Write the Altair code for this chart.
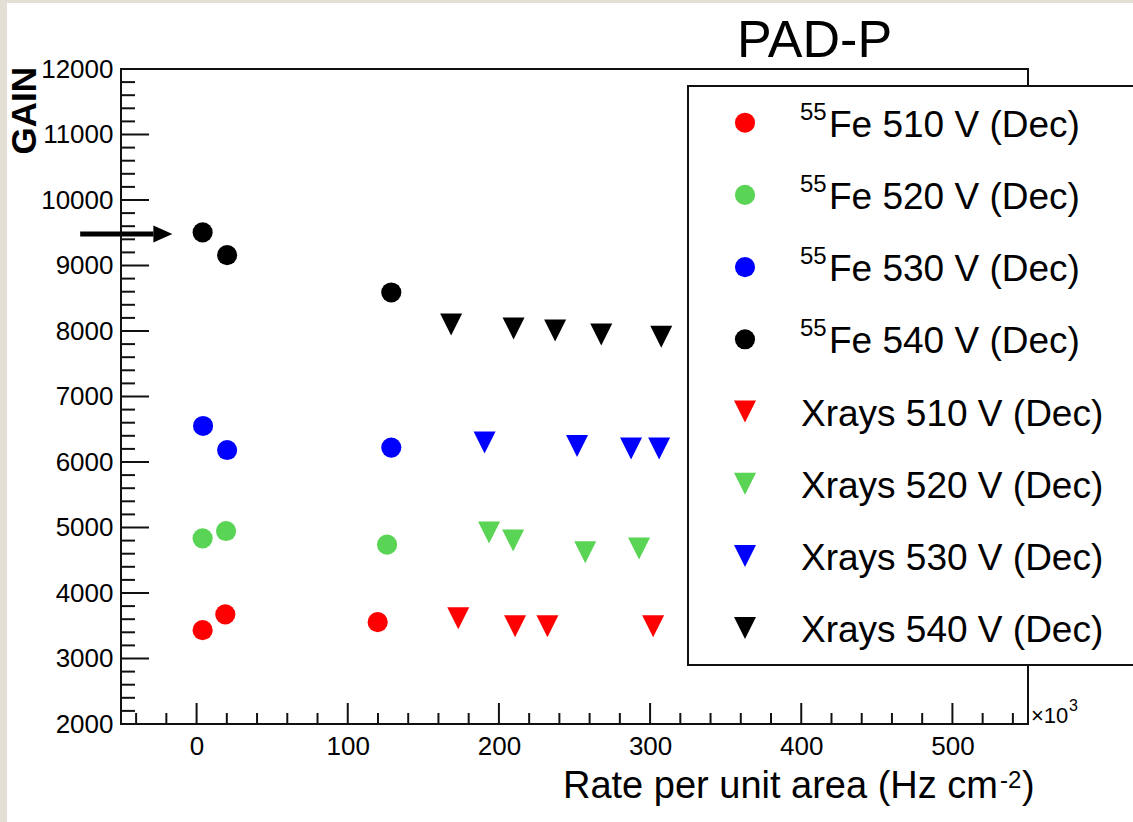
import altair as alt
import pandas as pd

FONT = "Liberation Sans"

# ---- series definitions -----------------------------------------------------
series = ["Fe510", "Fe520", "Fe530", "Fe540", "X510", "X520", "X530", "X540"]
colors = ["#ff0000", "#59d454", "#0000ff", "#000000",
          "#ff0000", "#59d454", "#0000ff", "#000000"]

# 55Fe source measurements (rate in 10^3 Hz/cm^2, gain)
fe510_rate = [4.0, 19.0, 119.8]
fe510_gain = [3433, 3673, 3555]
fe520_rate = [4.0, 19.5, 126.0]
fe520_gain = [4834, 4946, 4738]
fe530_rate = [4.3, 20.2, 128.8]
fe530_gain = [6550, 6183, 6220]
fe540_rate = [4.0, 20.2, 128.8]
fe540_gain = [9505, 9158, 8588]

# X-ray tube measurements
x510_rate = [173.1, 210.7, 232.1, 302.0]
x510_gain = [3615, 3493, 3493, 3493]
x520_rate = [193.5, 209.4, 257.1, 292.7]
x520_gain = [4923, 4801, 4623, 4678]
x530_rate = [190.5, 251.7, 287.4, 306.0]
x530_gain = [6298, 6243, 6206, 6206]
x540_rate = [168.4, 209.7, 237.2, 267.7, 307.4]
x540_gain = [8101, 8040, 8008, 7948, 7913]

legend_sup = ["55", "55", "55", "55", "", "", "", ""]
legend_text = ["Fe 510 V (Dec)", "Fe 520 V (Dec)", "Fe 530 V (Dec)", "Fe 540 V (Dec)",
               "Xrays 510 V (Dec)", "Xrays 520 V (Dec)", "Xrays 530 V (Dec)",
               "Xrays 540 V (Dec)"]

# axis ticks
x_major = [0, 100, 200, 300, 400, 500]
x_minor = [v for v in range(-40, 550, 20) if v % 100 != 0]
y_major = list(range(2000, 12001, 1000))
y_minor = [v for v in range(2200, 12000, 200) if v % 1000 != 0]

# arrow pointing at the lowest-rate 540 V point
arrow_x = [-77.0, -28.5]
arrow_head_x = -22.3
arrow_y = 9480

# ---- tables -----------------------------------------------------------------
pairs = [
    ("Fe510", "Fe", fe510_rate, fe510_gain), ("Fe520", "Fe", fe520_rate, fe520_gain),
    ("Fe530", "Fe", fe530_rate, fe530_gain), ("Fe540", "Fe", fe540_rate, fe540_gain),
    ("X510", "X", x510_rate, x510_gain), ("X520", "X", x520_rate, x520_gain),
    ("X530", "X", x530_rate, x530_gain), ("X540", "X", x540_rate, x540_gain),
]
rows = []
for name, kind, rs, gs in pairs:
    for r, g in zip(rs, gs):
        rows.append({"series": name, "kind": kind, "rate": r, "gain": g})
pts = pd.DataFrame(rows)

W, H = 907, 655
Y_LO, Y_HI = 2000, 12000


def px_to_gain(py):
    """Vertical pixel offset inside the frame -> value on the gain axis."""
    return Y_HI - py / H * (Y_HI - Y_LO)


# legend rows, laid out in frame pixels and expressed on the gain axis
ROW0, ROWSTEP = 53.7, 72.2
leg = pd.DataFrame({
    "series": series,
    "kind": ["Fe"] * 4 + ["X"] * 4,
    "sup": legend_sup,
    "text": legend_text,
})
ry = [ROW0 + ROWSTEP * i for i in range(len(leg))]
leg["ry"] = [px_to_gain(v) for v in ry]
leg["ty"] = [px_to_gain(v + 14) for v in ry]
leg["sy"] = [px_to_gain(v - 3) for v in ry]

one = pd.DataFrame({"d": [0]})

xs = alt.Scale(domain=[-50, 550], nice=False, zero=False)
ys = alt.Scale(domain=[Y_LO, Y_HI], nice=False, zero=False)
cscale = alt.Scale(domain=series, range=colors)

TRI_DOWN = "M-1,-1L1,-1L0,1Z"
ARROW_HEAD = "M-1,-0.9L1,0L-1,0.9Z"

x_axis = alt.Axis(values=x_major, format="d", ticks=False, domain=False, grid=False,
                  labelFont=FONT, labelFontSize=26, labelColor="black",
                  labelPadding=9, title=None)
y_axis = alt.Axis(values=y_major, format="d", ticks=False, domain=False, grid=False,
                  labelFont=FONT, labelFontSize=26, labelColor="black",
                  labelPadding=8, title=None)


def X(field):
    return alt.X(field, scale=xs, axis=x_axis)


def Y(field):
    return alt.Y(field, scale=ys, axis=y_axis)


# ---- layers -----------------------------------------------------------------
strips = alt.layer(
    alt.Chart(one).mark_rect(color="#e4dfd5").encode(
        x=alt.value(-121), x2=alt.value(1012), y=alt.value(-69), y2=alt.value(-66)),
    alt.Chart(one).mark_rect(color="#e4dfd5").encode(
        x=alt.value(-121), x2=alt.value(-114), y=alt.value(-69), y2=alt.value(753)),
)

tick_color = "#111111"
xt_major = alt.Chart(pd.DataFrame({"v": x_major})).mark_rule(
    color=tick_color, strokeWidth=2).encode(
    x=X("v:Q"), y=alt.value(H), y2=alt.value(H - 21))
xt_minor = alt.Chart(pd.DataFrame({"v": x_minor})).mark_rule(
    color=tick_color, strokeWidth=2).encode(
    x=X("v:Q"), y=alt.value(H), y2=alt.value(H - 11))
yt_major = alt.Chart(pd.DataFrame({"v": y_major})).mark_rule(
    color=tick_color, strokeWidth=2).encode(
    y=Y("v:Q"), x=alt.value(0), x2=alt.value(28))
yt_minor = alt.Chart(pd.DataFrame({"v": y_minor})).mark_rule(
    color=tick_color, strokeWidth=2).encode(
    y=Y("v:Q"), x=alt.value(0), x2=alt.value(14))

color_enc = alt.Color("series:N", scale=cscale, legend=None)

circles = alt.Chart(pts[pts["kind"] == "Fe"]).mark_point(
    shape="circle", filled=True, size=405, opacity=1, strokeWidth=0).encode(
    x=X("rate:Q"), y=Y("gain:Q"), color=color_enc)
triangles = alt.Chart(pts[pts["kind"] == "X"]).mark_point(
    shape=TRI_DOWN, filled=True, size=484, opacity=1, strokeWidth=0).encode(
    x=X("rate:Q"), y=Y("gain:Q"), color=color_enc)

shaft = alt.Chart(pd.DataFrame({"x": [arrow_x[0]], "x2": [arrow_x[1]], "y": [arrow_y]})).mark_rule(
    color="black", strokeWidth=5).encode(
    x=X("x:Q"), x2="x2:Q", y=Y("y:Q"))
head = alt.Chart(pd.DataFrame({"x": [arrow_head_x], "y": [arrow_y]})).mark_point(
    shape=ARROW_HEAD, filled=True, size=361, opacity=1, strokeWidth=0, color="black").encode(
    x=X("x:Q"), y=Y("y:Q"))

legend_box = alt.Chart(one).mark_rect(fill="white", stroke="#111111", strokeWidth=2).encode(
    x=alt.value(567), x2=alt.value(1030), y=alt.value(17), y2=alt.value(596))

leg_fe = leg[leg["kind"] == "Fe"]
leg_x = leg[leg["kind"] == "X"]
leg_circles = alt.Chart(leg_fe).mark_point(
    shape="circle", filled=True, size=405, opacity=1, strokeWidth=0).encode(
    x=alt.value(624), y=Y("ry:Q"), color=color_enc)
leg_tris = alt.Chart(leg_x).mark_point(
    shape=TRI_DOWN, filled=True, size=484, opacity=1, strokeWidth=0).encode(
    x=alt.value(624), y=Y("ry:Q"), color=color_enc)
leg_text_fe = alt.Chart(leg_fe).mark_text(
    font=FONT, fontSize=37, align="left", baseline="alphabetic", color="black").encode(
    x=alt.value(708), y=Y("ty:Q"), text="text:N")
leg_text_x = alt.Chart(leg_x).mark_text(
    font=FONT, fontSize=37, align="left", baseline="alphabetic", color="black").encode(
    x=alt.value(680), y=Y("ty:Q"), text="text:N")
leg_sup = alt.Chart(leg_fe).mark_text(
    font=FONT, fontSize=24, align="left", baseline="alphabetic", color="black").encode(
    x=alt.value(679), y=Y("sy:Q"), text="sup:N")


def label(txt, x, y, size, align="left", baseline="alphabetic", angle=0, weight="normal"):
    return alt.Chart(one).mark_text(
        font=FONT, fontSize=size, align=align, baseline=baseline, angle=angle,
        fontWeight=weight, color="black").encode(
        x=alt.value(x), y=alt.value(y), text=alt.value(txt))


texts = alt.layer(
    label("PAD-P", 616, -12, 52),
    label("GAIN", -96, -2, 35, align="right", baseline="middle", angle=270, weight="bold"),
    label("Rate per unit area (Hz cm", 877, 729, 38, align="right"),
    label("-2", 879, 719, 24),
    label(")", 901, 729, 38),
    label("\u00d710", 910, 654, 22),
    label("3", 948, 642, 16),
)

chart = alt.layer(
    strips, xt_major, xt_minor, yt_major, yt_minor,
    circles, triangles, shaft, head,
    legend_box, leg_circles, leg_tris, leg_text_fe, leg_text_x, leg_sup,
    texts,
).properties(
    width=W, height=H,
    padding={"left": 121, "top": 69, "right": 105, "bottom": 98},
    autosize=alt.AutoSizeParams(type="none"),
    background="white",
).configure_view(
    stroke="#111111", strokeWidth=2
)

chart.save("out.html", embed_options={"renderer": "svg", "actions": False})
